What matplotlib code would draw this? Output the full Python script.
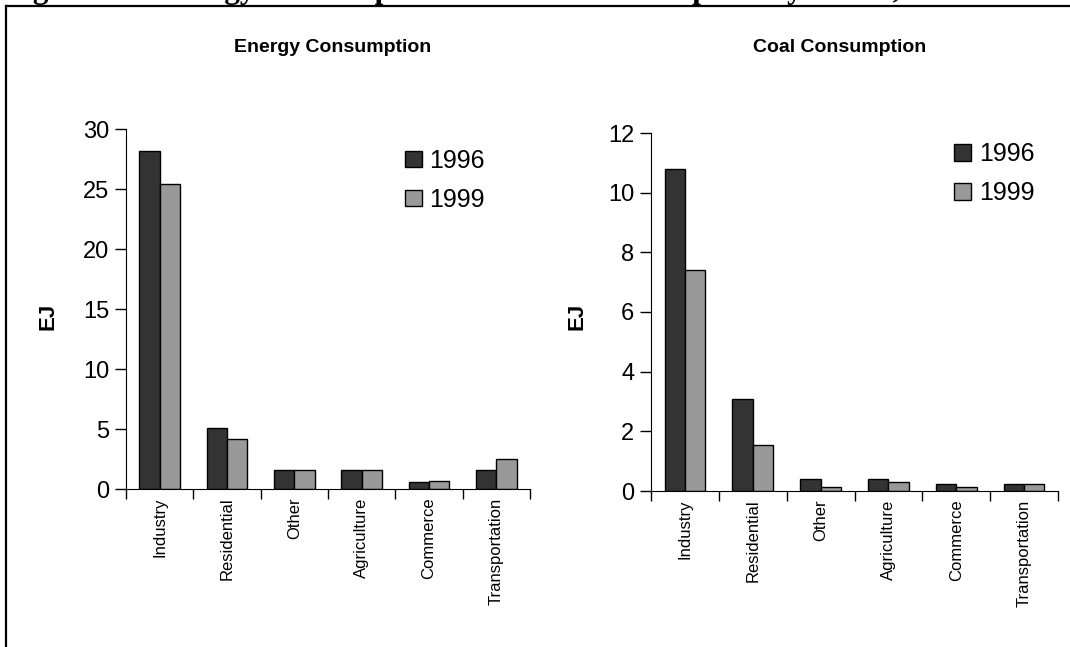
import matplotlib.pyplot as plt
from matplotlib.lines import Line2D

# sectors (same for both panels)
sectors = ['Industry', 'Residential', 'Other', 'Agriculture', 'Commerce', 'Transportation']

# Energy consumption, EJ
energy_1996 = [28.2, 5.1, 1.6, 1.6, 0.6, 1.6]
energy_1999 = [25.4, 4.2, 1.6, 1.6, 0.7, 2.5]

# Coal consumption, EJ
coal_1996 = [10.8, 3.1, 0.4, 0.4, 0.25, 0.25]
coal_1999 = [7.4, 1.55, 0.15, 0.3, 0.15, 0.25]

years = ['1996', '1999']
colors = ['#333333', '#999999']

plt.rcParams['font.family'] = ['Liberation Sans Narrow', 'Liberation Sans', 'DejaVu Sans']

W, H = 1070, 647
fig = plt.figure(figsize=(W / 100, H / 100), dpi=100)


def px(x0, y0, x1, y1):
    # pixel box -> figure fraction [left, bottom, width, height]
    return [x0 / W, 1 - y1 / H, (x1 - x0) / W, (y1 - y0) / H]


def panel(ax, v96, v99, ymax, step, leg_x, leg_y):
    x = list(range(len(sectors)))
    w = 0.3
    ax.bar([i - w / 2 for i in x], v96, width=w, color=colors[0], edgecolor='black',
           linewidth=1, label=years[0])
    ax.bar([i + w / 2 for i in x], v99, width=w, color=colors[1], edgecolor='black',
           linewidth=1, label=years[1])
    ax.set_xlim(-0.5, len(sectors) - 0.5)
    ax.set_ylim(0, ymax)
    ax.set_yticks(range(0, ymax + 1, step))
    # major ticks on the category borders, labels on the centres
    ax.set_xticks([i - 0.5 for i in range(len(sectors) + 1)])
    ax.set_xticklabels([])
    ax.set_xticks(x, minor=True)
    ax.set_xticklabels(sectors, minor=True, rotation=90, fontsize=12)
    ax.tick_params(axis='x', which='major', direction='out', length=7, width=1)
    ax.tick_params(axis='x', which='minor', length=0, pad=6)
    ax.tick_params(axis='y', direction='out', length=8, width=1, labelsize=17, pad=4)
    for s in ['top', 'right']:
        ax.spines[s].set_visible(False)
    ax.legend(loc='upper left', bbox_to_anchor=(leg_x, leg_y), frameon=False,
              fontsize=18, handlelength=0.68, handleheight=0.65, handletextpad=0.3,
              labelspacing=0.6, borderpad=0, borderaxespad=0)


ax1 = fig.add_axes(px(126, 129, 530, 489))
panel(ax1, energy_1996, energy_1999, 30, 5, 0.69, 0.945)

ax2 = fig.add_axes(px(651, 133, 1058, 491))
panel(ax2, coal_1996, coal_1999, 12, 2, 0.745, 0.974)

# panel titles
fig.text(333 / W, 1 - 48 / H, 'Energy Consumption', ha='center', va='center',
         fontsize=14, fontweight='bold')
fig.text(840 / W, 1 - 47 / H, 'Coal Consumption', ha='center', va='center',
         fontsize=14, fontweight='bold')

# y labels
fig.text(48 / W, 1 - 316 / H, 'EJ', rotation=90, ha='center', va='center',
         fontsize=16, fontweight='bold')
fig.text(577 / W, 1 - 316 / H, 'EJ', rotation=90, ha='center', va='center',
         fontsize=16, fontweight='bold')

# document caption, cut off at the top edge
fig.text(5 / W, 1 + 2 / H,
         'Figure 2.1: Energy Consumption and Coal Consumption by Sector, 1996 and 1999',
         ha='left', va='baseline', fontsize=22.5, fontweight='bold',
         family=['Liberation Serif', 'DejaVu Serif'])

# frame around the figure (top and left edges visible)
fig.add_artist(Line2D([6 / W, 1], [1 - 6 / H, 1 - 6 / H], color='black', linewidth=1.6))
fig.add_artist(Line2D([6 / W, 6 / W], [0, 1 - 6 / H], color='black', linewidth=1.6))

fig.savefig('out.png', dpi=100)
